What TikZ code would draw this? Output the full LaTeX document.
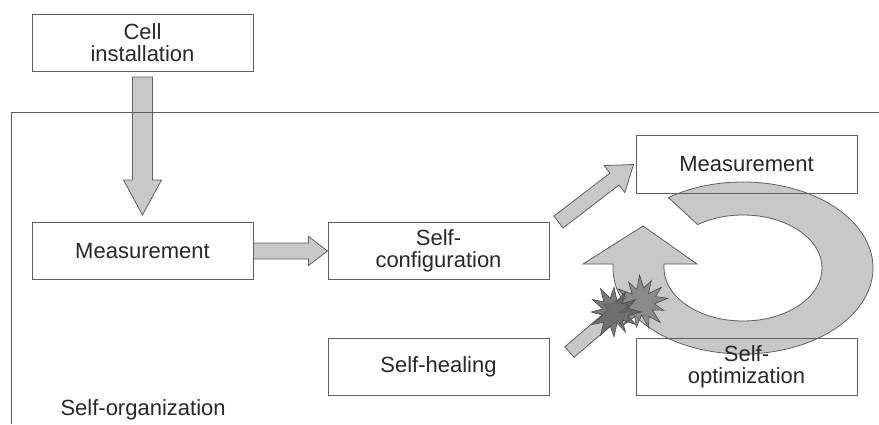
\documentclass[tikz,border=0pt]{standalone}
\usepackage{fontspec}
\setmainfont{Liberation Sans}
\usepackage{xcolor}
\usetikzlibrary{positioning,calc,backgrounds}

\definecolor{fillgray}{RGB}{200,200,200}
\definecolor{linegray}{RGB}{95,95,95}
\definecolor{textgray}{RGB}{40,40,40}

\tikzset{
  box/.style={draw=linegray, line width=1pt, minimum width=221pt, minimum height=57pt,
    align=center, text=textgray, font=\fontsize{22}{22}\selectfont},
  fatarrow/.style={draw=linegray, fill=fillgray, line width=0.8pt},
  burst/.style={draw=black!70, fill opacity=0.85, line width=0.6pt, line join=miter},
}

% block arrow: tail, tip, shaft half width, head half width, head length
\newcommand{\fatedge}[5]{%
  \coordinate (hb) at ($(#2)!#5!(#1)$);
  \draw[fatarrow] ($(#1)!#3!90:(#2)$) -- ($(hb)!#3!90:(#2)$) -- ($(hb)!#4!90:(#2)$) -- (#2)
    -- ($(hb)!#4!-90:(#2)$) -- ($(hb)!#3!-90:(#2)$) -- ($(#1)!#3!-90:(#2)$) -- cycle;
}

\begin{document}
\begin{tikzpicture}[x=1pt, y=1pt]
  \useasboundingbox (0,0) rectangle (879,424);

  \node[box] (meas1) at (142.5,173) {Measurement}; %
  \node[box, above=150pt of meas1] (cell) {Cell\\installation}; %
  \node[box, right=74pt of meas1] (conf) {Self-\\configuration}; %
  \node[box, below=58pt of conf] (heal) {Self-healing}; %
  \node[box] (meas2) at (746.5,259.5) {Measurement}; %
  \node[box, below=144pt of meas2] (opt) {Self-\\optimization}; %
  \node[text=textgray, font=\fontsize{22}{22}\selectfont, anchor=west] (org) at (57,14) {Self-organization}; %

  \coordinate (cellout) at ($(cell.south)+(0,-5)$);
  \coordinate (measin) at ($(meas1.north)+(0,7)$);
  \coordinate (conftail) at ($(conf.north east)+(9,0)$);
  \coordinate (meas2in) at ($(meas2.west)+(-2,0)$);
  \coordinate (healtail) at ($(heal.east)+(20,15)$);
  \coordinate (healtip) at (628,122);
  \coordinate (burstR) at (641,121);
  \coordinate (burstL) at (614,112);

  \begin{scope}[on background layer]
    % loop arrow
    \begin{scope}[shift={(743,156)}]
      \draw[fatarrow] (125:130 and 86) arc[start angle=125, end angle=-180, x radius=130, y radius=86]
        -- (-130,4) -- (-160,4) -- (-100,42) -- (-46,4) -- (-79,4) -- (-79,0)
        arc[start angle=-180, end angle=125, x radius=79, y radius=53] -- cycle;
    \end{scope}

    \fatedge{cellout}{measin}{10pt}{19pt}{35pt}
    \fatedge{meas1.east}{conf.west}{8pt}{14.5pt}{19pt}
    \fatedge{conftail}{meas2in}{7.5pt}{17pt}{24pt}
    \fatedge{healtail}{healtip}{7pt}{14pt}{20pt}
  \end{scope}

  % bursts
  \draw[burst, fill=black!50, shift={(burstR)}]
    plot[samples=27, domain=10:370] (\x:{20 + 6*cos(13*(\x-10)) + 2*sin(5*\x)}) -- cycle;
  \draw[burst, fill=black!62, shift={(burstL)}]
    plot[samples=25, domain=0:360] (\x:{19 + 6*cos(12*\x) + 2*cos(3*\x)}) -- cycle;

  \draw[linegray, line width=1pt] (11,0) -- (11,311) -- (879,311);

\end{tikzpicture}
\end{document}
